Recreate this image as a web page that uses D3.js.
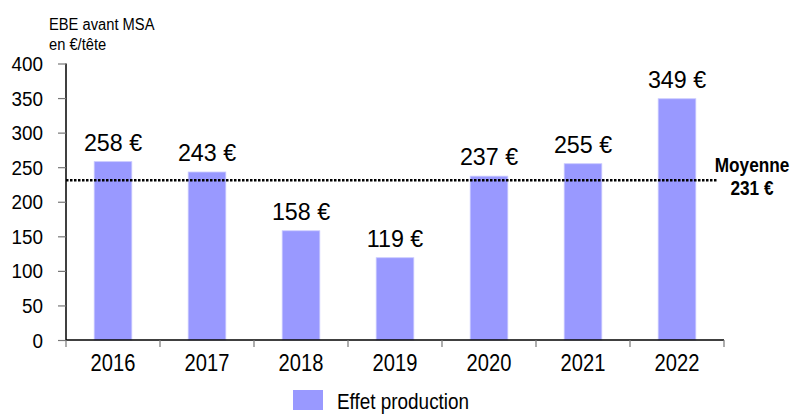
<!DOCTYPE html>
<html>
<head>
<meta charset="utf-8">
<script src="https://cdn.jsdelivr.net/npm/d3@7"></script>
<style>
  html, body { margin: 0; padding: 0; background: #fff; }
  svg { display: block; font-family: "Liberation Sans", Arial, sans-serif; }
</style>
</head>
<body>
<svg id="chart" width="791" height="414"></svg>
<script>
const years = ["2016", "2017", "2018", "2019", "2020", "2021", "2022"];
const values = [258, 243, 158, 119, 237, 255, 349];
const yTicks = [0, 50, 100, 150, 200, 250, 300, 350, 400];
const average = 231;
const seriesName = "Effet production";
const axisTitle = ["EBE avant MSA", "en €/tête"];
const avgLabel = ["Moyenne", "231 €"];

(function () {
const svg = d3.select("#chart");
const pLeft = 66, pRight = 724, pTop = 63.5, pBottom = 340;
const barColor = "#9999FF";

const x = d3.scaleBand().domain(years).range([pLeft, pRight]).paddingInner(0.6).paddingOuter(0.3);
const y = d3.scaleLinear().domain([0, 400]).range([pBottom, pTop]);

// bars
svg.append("g").selectAll("rect").data(years).join("rect")
  .attr("x", d => x(d))
  .attr("y", (d, i) => y(values[i]))
  .attr("width", x.bandwidth())
  .attr("height", (d, i) => y(0) - y(values[i]))
  .attr("fill", barColor)
  .attr("stroke", "#c8c8ff")
  .attr("stroke-width", 0.8);

// value labels
svg.append("g").selectAll("g").data(years).join("g")
  .attr("transform", (d, i) => `translate(${x(d) + x.bandwidth() / 2},${y(values[i]) - 11}) scale(0.97,1)`)
  .append("text")
  .attr("text-anchor", "middle")
  .attr("font-size", 24)
  .attr("fill", "#000")
  .text((d, i) => values[i] + " €");

// average line
svg.append("line")
  .attr("x1", pLeft).attr("x2", 718)
  .attr("y1", y(average)).attr("y2", y(average))
  .attr("stroke", "#000").attr("stroke-width", 2.5)
  .attr("stroke-dasharray", "2.5,1.5");

// y axis
const yAxis = svg.append("g").attr("transform", `translate(${pLeft},0)`)
  .call(d3.axisLeft(y).tickValues(yTicks).tickSize(8).tickFormat(""));
yAxis.select(".domain").attr("d", `M0,${pTop}V${pBottom}`).attr("stroke", "#000").attr("stroke-width", 1.5);
yAxis.selectAll(".tick line").attr("stroke", "#777").attr("stroke-width", 1.2);

svg.append("g").selectAll("g").data(yTicks).join("g")
  .attr("transform", d => `translate(43,${y(d)}) scale(0.9,1)`)
  .append("text")
  .attr("text-anchor", "end")
  .attr("dy", "0.36em")
  .attr("font-size", 21)
  .attr("fill", "#000")
  .text(d => d);

// x axis
const xAxis = svg.append("g").attr("transform", `translate(0,${pBottom})`)
  .call(d3.axisBottom(x).tickSize(0).tickFormat(""));
xAxis.select(".domain").attr("d", `M${pLeft},0H${pRight}`).attr("stroke", "#000").attr("stroke-width", 1.5);
const step = x.step();
const bounds = d3.range(years.length + 1).map(i => pLeft + i * step);
svg.append("g").selectAll("line").data(bounds).join("line")
  .attr("x1", d => d).attr("x2", d => d)
  .attr("y1", pBottom).attr("y2", pBottom + 7)
  .attr("stroke", "#777").attr("stroke-width", 1.2);

svg.append("g").selectAll("g").data(years).join("g")
  .attr("transform", d => `translate(${x(d) + x.bandwidth() / 2},371) scale(0.84,1)`)
  .append("text")
  .attr("text-anchor", "middle")
  .attr("font-size", 24)
  .attr("fill", "#000")
  .text(d => d);

// axis title
svg.append("g").attr("transform", "translate(49,30) scale(0.92,1)")
  .append("text").attr("font-size", 16).attr("fill", "#000").text(axisTitle[0]);
svg.append("g").attr("transform", "translate(49,50) scale(0.92,1)")
  .append("text").attr("font-size", 16).attr("fill", "#000").text(axisTitle[1]);

// average label
svg.append("g").attr("transform", "translate(752,172) scale(0.82,1)")
  .append("text").attr("text-anchor", "middle").attr("font-size", 21).attr("font-weight", "bold")
  .attr("fill", "#000").text(avgLabel[0]);
svg.append("g").attr("transform", "translate(752,195) scale(0.82,1)")
  .append("text").attr("text-anchor", "middle").attr("font-size", 21).attr("font-weight", "bold")
  .attr("fill", "#000").text(avgLabel[1]);

// legend
svg.append("rect").attr("x", 293).attr("y", 390).attr("width", 30).attr("height", 20).attr("fill", barColor);
svg.append("g").attr("transform", "translate(337,409) scale(0.86,1)")
  .append("text").attr("font-size", 22).attr("fill", "#000").text(seriesName);
})();
</script>
</body>
</html>
